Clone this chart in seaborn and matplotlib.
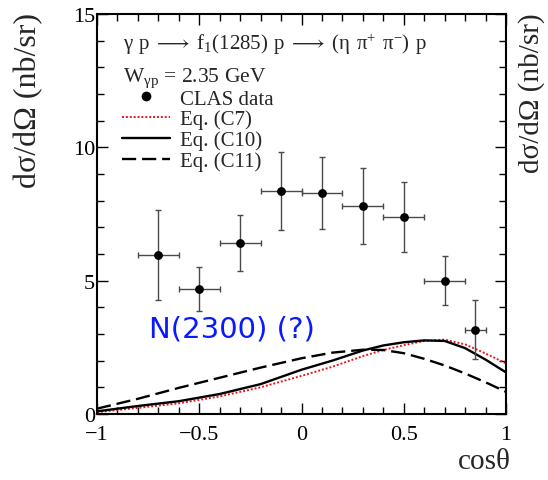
import matplotlib
matplotlib.use("Agg")
import matplotlib.pyplot as plt
from matplotlib.lines import Line2D
from matplotlib.ticker import MultipleLocator, FixedLocator, FixedFormatter
import seaborn as sns
import pandas as pd

# CLAS differential cross sections, W = 2.35 GeV
cos_theta = [-0.7, -0.5, -0.3, -0.1, 0.1, 0.3, 0.5, 0.7, 0.85]
dsigma = [5.96, 4.69, 6.41, 8.36, 8.29, 7.80, 7.40, 4.99, 3.16]
dsigma_err = [1.70, 0.82, 1.06, 1.47, 1.35, 1.42, 1.31, 0.92, 1.10]
bin_half_width = [0.1, 0.1, 0.1, 0.1, 0.1, 0.1, 0.1, 0.1, 0.05]

# model curves
curve_x = [-1.0, -0.8, -0.6, -0.4, -0.2, 0.0, 0.15, 0.3, 0.4, 0.5, 0.6, 0.7, 0.8, 0.9, 1.0]
eq_c7 = [0.07, 0.23, 0.40, 0.66, 1.00, 1.43, 1.77, 2.17, 2.40, 2.58, 2.74, 2.79, 2.61, 2.27, 1.90]
eq_c10 = [0.10, 0.30, 0.48, 0.75, 1.12, 1.66, 2.00, 2.38, 2.57, 2.69, 2.76, 2.74, 2.47, 2.04, 1.56]
eq_c11 = [0.20, 0.57, 0.98, 1.36, 1.74, 2.09, 2.30, 2.41, 2.40, 2.28, 2.07, 1.82, 1.52, 1.19, 0.83]

x_ticks = [-1, -0.5, 0, 0.5, 1]
x_tick_labels = ["\u22121", "\u22120.5", "0", "0.5", "1"]
y_ticks = [0, 5, 10, 15]
y_tick_labels = ["0", "5", "10", "15"]

sns.set_theme(style="ticks")
plt.rcParams["font.family"] = ["Liberation Serif", "DejaVu Serif"]
plt.rcParams["mathtext.fontset"] = "custom"
plt.rcParams["mathtext.rm"] = "Liberation Serif"
plt.rcParams["mathtext.it"] = "Liberation Serif:italic"
plt.rcParams["mathtext.bf"] = "Liberation Serif:bold"

fig = plt.figure(figsize=(5.48, 4.81), dpi=100)
ax = fig.add_axes([97 / 548, 1 - 415 / 481, 409 / 548, 400 / 481])

data = pd.DataFrame({"x": cos_theta, "y": dsigma})
curves = pd.DataFrame({"x": curve_x, "c7": eq_c7, "c10": eq_c10, "c11": eq_c11})

sns.lineplot(data=curves, x="x", y="c7", ax=ax, color="#e8161b", lw=1.4,
             linestyle=(0, (1, 1)), sort=False, label="Eq. (C7)")
sns.lineplot(data=curves, x="x", y="c10", ax=ax, color="black", lw=1.7,
             sort=False, label="Eq. (C10)")
sns.lineplot(data=curves, x="x", y="c11", ax=ax, color="black", lw=1.7,
             linestyle=(0, (6, 2.5)), sort=False, label="Eq. (C11)")

ax.errorbar(cos_theta, dsigma, xerr=bin_half_width, yerr=dsigma_err, fmt="none",
            ecolor="#4a4a4a", elinewidth=1.0, capsize=2, capthick=1.0, zorder=3)
sns.scatterplot(data=data, x="x", y="y", ax=ax, color="black", s=40,
                edgecolor="black", linewidth=0, zorder=4, label="CLAS data")

ax.set_xlim(-1, 1)
ax.set_ylim(0, 15)

ax.xaxis.set_major_locator(FixedLocator(x_ticks))
ax.xaxis.set_major_formatter(FixedFormatter(x_tick_labels))
ax.xaxis.set_minor_locator(MultipleLocator(0.1))
ax.yaxis.set_major_locator(FixedLocator(y_ticks))
ax.yaxis.set_major_formatter(FixedFormatter(y_tick_labels))
ax.yaxis.set_minor_locator(MultipleLocator(1))

ax.tick_params(which="both", direction="in", top=True, right=True,
               colors="black", labelsize=16, width=1.0)
ax.tick_params(which="major", length=8)
ax.tick_params(which="minor", length=5)
ax.tick_params(axis="x", which="major", pad=8)
ax.tick_params(axis="y", which="major", pad=1.5)
for s in ax.spines.values():
    s.set_linewidth(1.5)
    s.set_color("black")

ax.set_xlabel("cos\u03b8", fontsize=21, loc="right")
ax.xaxis.set_label_coords(1.012, -0.085)
ax.set_ylabel("d\u03c3/d\u03a9 (nb/sr)", fontsize=23, loc="top")
ax.yaxis.set_label_coords(-0.132, 1.005)
ax.text(1.063, 1.005, "d\u03c3/d\u03a9 (nb/sr)", transform=ax.transAxes,
        rotation=90, ha="center", va="top", fontsize=21)

ax.text(0.064, 0.9125,
        r"$\mathrm{\gamma\;\,p\;\longrightarrow\;f_{1}(1285)\;\,p\;\longrightarrow\;(\eta\;\,\pi^{+}\;\,\pi^{-})\;\,p}$",
        transform=ax.transAxes, fontsize=15, ha="left", va="baseline")
ax.text(0.064, 0.833, r"$\mathrm{W_{\gamma p}}$ = 2.35 GeV",
        transform=ax.transAxes, fontsize=15.5, ha="left", va="baseline")

handles = [
    Line2D([], [], ls="none", marker="o", color="black", markersize=6),
    Line2D([], [], color="#e8161b", lw=1.4, ls=(0, (1, 1))),
    Line2D([], [], color="black", lw=1.7),
    Line2D([], [], color="black", lw=1.7, ls=(0, (6, 2.5))),
]
labels = ["CLAS data", "Eq. (C7)", "Eq. (C10)", "Eq. (C11)"]
ax.legend(handles, labels, loc="upper left", bbox_to_anchor=(0.062, 0.8125),
          frameon=False, fontsize=15, handlelength=2.3, handletextpad=0.45,
          labelspacing=0.05, borderpad=0, borderaxespad=0)

ax.text(-0.747, 2.89, "N(2300) (?)", color="#0a1aff", fontsize=21,
        family="DejaVu Sans", ha="left", va="baseline")

fig.savefig("out.png", dpi=100)
